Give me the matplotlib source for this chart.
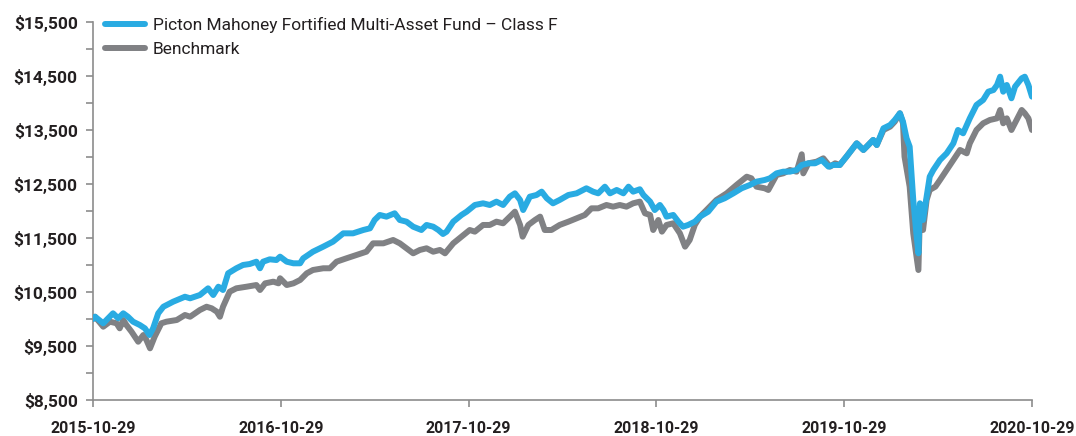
import matplotlib
matplotlib.use("Agg")
import matplotlib.pyplot as plt
import matplotlib.dates as mdates
from matplotlib.ticker import FuncFormatter, MultipleLocator
import pandas as pd

plt.rcParams['font.family'] = ['Roboto', 'DejaVu Sans']

# growth of $10,000 - fund (Class F)
fund_dates = [
    "2015-10-29", "2015-11-02", "2015-11-18", "2015-12-07", "2015-12-17", "2015-12-27",
    "2016-01-05", "2016-01-15", "2016-01-28", "2016-02-07", "2016-02-16", "2016-02-23",
    "2016-03-04", "2016-03-14", "2016-04-02", "2016-04-25", "2016-05-05", "2016-05-24",
    "2016-06-09", "2016-06-19", "2016-06-29", "2016-07-08", "2016-07-18", "2016-08-03",
    "2016-08-16", "2016-08-29", "2016-09-11", "2016-09-18", "2016-09-24", "2016-10-07",
    "2016-10-20", "2016-10-27", "2016-11-09", "2016-11-22", "2016-12-05", "2016-12-11",
    "2016-12-30", "2017-01-19", "2017-02-07", "2017-02-27", "2017-03-18", "2017-04-07",
    "2017-04-20", "2017-04-29", "2017-05-09", "2017-05-22", "2017-06-07", "2017-06-17",
    "2017-06-30", "2017-07-13", "2017-07-29", "2017-08-08", "2017-08-21", "2017-08-31",
    "2017-09-09", "2017-09-16", "2017-09-29", "2017-10-15", "2017-10-25", "2017-11-10",
    "2017-11-26", "2017-12-09", "2017-12-22", "2018-01-04", "2018-01-17", "2018-01-27",
    "2018-02-06", "2018-02-12", "2018-02-25", "2018-03-10", "2018-03-20", "2018-03-30",
    "2018-04-11", "2018-04-24", "2018-05-11", "2018-05-27", "2018-06-15", "2018-06-28",
    "2018-07-08", "2018-07-21", "2018-07-31", "2018-08-13", "2018-08-26", "2018-09-05",
    "2018-09-14", "2018-09-27", "2018-10-04", "2018-10-17", "2018-10-26", "2018-11-05",
    "2018-11-12", "2018-11-18", "2018-12-01", "2018-12-11", "2018-12-20", "2018-12-30",
    "2019-01-12", "2019-01-22", "2019-02-07", "2019-02-23", "2019-03-11", "2019-03-28",
    "2019-04-13", "2019-04-29", "2019-05-12", "2019-05-28", "2019-06-07", "2019-06-20",
    "2019-07-03", "2019-07-16", "2019-07-29", "2019-08-08", "2019-08-21", "2019-09-03",
    "2019-09-16", "2019-09-29", "2019-10-08", "2019-10-21", "2019-11-03", "2019-11-23",
    "2019-12-06", "2019-12-25", "2020-01-01", "2020-01-14", "2020-01-27", "2020-02-05",
    "2020-02-15", "2020-02-21", "2020-02-28", "2020-03-05", "2020-03-12", "2020-03-18",
    "2020-03-22", "2020-03-25", "2020-03-31", "2020-04-07", "2020-04-13", "2020-04-20",
    "2020-05-03", "2020-05-16", "2020-05-29", "2020-06-07", "2020-06-17", "2020-06-30",
    "2020-07-13", "2020-07-26", "2020-08-05", "2020-08-15", "2020-08-22", "2020-08-28",
    "2020-09-03", "2020-09-10", "2020-09-19", "2020-09-26", "2020-10-09", "2020-10-15",
    "2020-10-22", "2020-10-29",
]
fund_values = [
    10000, 10042, 9920, 10105, 10013, 10105,
    10042, 9950, 9889, 9827, 9703, 9827,
    10105, 10227, 10320, 10412, 10383, 10444,
    10568, 10444, 10598, 10537, 10846, 10939,
    11000, 11018, 11061, 10939, 11061, 11105,
    11092, 11154, 11061, 11031, 11031, 11123,
    11246, 11339, 11432, 11586, 11586, 11648,
    11679, 11833, 11926, 11895, 11957, 11833,
    11802, 11709, 11648, 11741, 11709, 11648,
    11574, 11617, 11802, 11926, 11987, 12111,
    12142, 12111, 12173, 12111, 12265, 12327,
    12204, 12018, 12265, 12296, 12358, 12235,
    12142, 12204, 12296, 12327, 12420, 12358,
    12327, 12450, 12327, 12389, 12327, 12450,
    12358, 12402, 12296, 12173, 12018, 12111,
    12018, 11895, 11926, 11802, 11709, 11741,
    11802, 11895, 11987, 12173, 12235, 12327,
    12420, 12481, 12543, 12574, 12605, 12697,
    12728, 12728, 12759, 12852, 12883, 12883,
    12944, 12821, 12852, 12852, 13006, 13253,
    13130, 13315, 13222, 13531, 13592, 13685,
    13809, 13654, 13346, 13191, 12204, 11586,
    11216, 12142, 11833, 12265, 12635, 12759,
    12944, 13068, 13253, 13500, 13439, 13716,
    13963, 14056, 14209, 14240, 14333, 14487,
    14209, 14333, 14087, 14302, 14457, 14487,
    14333, 14117,
]

# benchmark
bench_dates = [
    "2015-10-29", "2015-11-02", "2015-11-18", "2015-12-01", "2015-12-14", "2015-12-20",
    "2015-12-27", "2016-01-02", "2016-01-12", "2016-01-25", "2016-02-04", "2016-02-10",
    "2016-02-17", "2016-02-26", "2016-03-10", "2016-03-20", "2016-04-09", "2016-04-25",
    "2016-05-05", "2016-05-24", "2016-06-06", "2016-06-16", "2016-06-26", "2016-07-02",
    "2016-07-08", "2016-07-21", "2016-08-03", "2016-08-23", "2016-09-11", "2016-09-18",
    "2016-09-28", "2016-10-14", "2016-10-24", "2016-10-27", "2016-11-09", "2016-11-22",
    "2016-12-05", "2016-12-18", "2016-12-30", "2017-01-19", "2017-02-01", "2017-02-14",
    "2017-03-05", "2017-03-25", "2017-04-13", "2017-04-26", "2017-05-16", "2017-06-04",
    "2017-06-17", "2017-06-30", "2017-07-13", "2017-07-26", "2017-08-08", "2017-08-21",
    "2017-09-03", "2017-09-13", "2017-09-29", "2017-10-15", "2017-10-31", "2017-11-10",
    "2017-11-26", "2017-12-09", "2017-12-22", "2018-01-04", "2018-01-17", "2018-01-27",
    "2018-02-06", "2018-02-11", "2018-02-22", "2018-03-07", "2018-03-17", "2018-03-26",
    "2018-04-08", "2018-04-24", "2018-05-11", "2018-05-27", "2018-06-12", "2018-06-25",
    "2018-07-08", "2018-07-24", "2018-08-06", "2018-08-19", "2018-09-01", "2018-09-14",
    "2018-09-27", "2018-10-07", "2018-10-17", "2018-10-23", "2018-11-02", "2018-11-09",
    "2018-11-18", "2018-12-01", "2018-12-14", "2018-12-24", "2019-01-02", "2019-01-12",
    "2019-01-22", "2019-02-07", "2019-02-23", "2019-03-15", "2019-04-03", "2019-04-23",
    "2019-05-02", "2019-05-12", "2019-05-28", "2019-06-04", "2019-06-20", "2019-07-03",
    "2019-07-16", "2019-07-29", "2019-08-08", "2019-08-11", "2019-08-21", "2019-09-06",
    "2019-09-19", "2019-10-02", "2019-10-12", "2019-10-21", "2019-11-03", "2019-11-23",
    "2019-12-06", "2019-12-25", "2020-01-01", "2020-01-14", "2020-01-27", "2020-02-05",
    "2020-02-15", "2020-02-21", "2020-02-24", "2020-03-05", "2020-03-12", "2020-03-22",
    "2020-03-25", "2020-03-31", "2020-04-07", "2020-04-13", "2020-04-24", "2020-05-03",
    "2020-05-16", "2020-05-29", "2020-06-11", "2020-06-24", "2020-06-30", "2020-07-13",
    "2020-07-26", "2020-08-08", "2020-08-22", "2020-08-28", "2020-09-03", "2020-09-10",
    "2020-09-19", "2020-09-29", "2020-10-09", "2020-10-15", "2020-10-22", "2020-10-29",
]
bench_values = [
    10000, 10042, 9857, 9950, 9920, 9827,
    9981, 9889, 9765, 9579, 9703, 9611,
    9457, 9672, 9920, 9950, 9981, 10074,
    10042, 10166, 10227, 10197, 10135, 10042,
    10227, 10505, 10568, 10598, 10629, 10537,
    10660, 10691, 10660, 10754, 10629, 10660,
    10722, 10846, 10907, 10939, 10939, 11061,
    11123, 11185, 11246, 11401, 11401, 11463,
    11401, 11309, 11216, 11278, 11309, 11246,
    11278, 11216, 11401, 11524, 11648, 11617,
    11741, 11741, 11802, 11772, 11895, 11987,
    11741, 11524, 11741, 11833, 11895, 11648,
    11648, 11741, 11802, 11864, 11926, 12049,
    12049, 12111, 12080, 12111, 12080, 12142,
    12173, 11957, 11926, 11648, 11833, 11617,
    11741, 11772, 11586, 11339, 11463, 11741,
    11895, 12049, 12204, 12327, 12481, 12635,
    12605, 12450, 12420, 12389, 12667, 12697,
    12759, 12728, 13050, 12697, 12883, 12913,
    12975, 12821, 12883, 12852, 13006, 13253,
    13130, 13315, 13222, 13500, 13562, 13654,
    13809, 13624, 13006, 12450, 11586, 10907,
    11957, 11648, 12204, 12389, 12450, 12574,
    12759, 12944, 13130, 13068, 13253, 13500,
    13624, 13685, 13716, 13870, 13624, 13716,
    13500, 13685, 13870, 13809, 13716, 13500,
]

tick_dates = ["2015-10-29", "2016-10-29", "2017-10-29", "2018-10-29", "2019-10-29", "2020-10-29"]

fund_name = "Picton Mahoney Fortified Multi-Asset Fund \u2013 Class F"
bench_name = "Benchmark"

blue = "#29abe2"
grey = "#808184"
text_col = "#231f20"
axis_col = "#8c8c8c"

fig = plt.figure(figsize=(10.76, 4.36), dpi=100)
ax = fig.add_axes([0.0864, 0.0826, 0.8727, 0.8670])

ax.plot(pd.to_datetime(bench_dates), bench_values, color=grey, lw=4.3,
        solid_joinstyle="round", solid_capstyle="round", label=bench_name, zorder=2)
ax.plot(pd.to_datetime(fund_dates), fund_values, color=blue, lw=4.3,
        solid_joinstyle="round", solid_capstyle="round", label=fund_name, zorder=3)

ax.set_xlim(pd.Timestamp(tick_dates[0]), pd.Timestamp(tick_dates[-1]))
ax.set_ylim(8500, 15500)

ax.set_xticks(pd.to_datetime(tick_dates))
ax.xaxis.set_major_formatter(mdates.DateFormatter("%Y-%m-%d"))
ax.set_yticks(range(8500, 15501, 1000))
ax.yaxis.set_minor_locator(MultipleLocator(500))
ax.yaxis.set_major_formatter(FuncFormatter(lambda v, p: "${:,.0f}".format(v)))

for s in ["top", "right"]:
    ax.spines[s].set_visible(False)
for s in ["left", "bottom"]:
    ax.spines[s].set_color(axis_col)
    ax.spines[s].set_linewidth(1.2)

ax.tick_params(axis="both", which="both", color=axis_col, width=1.2, length=5)
ax.tick_params(axis="y", labelsize=12.5, labelcolor=text_col, pad=6)
ax.tick_params(axis="x", labelsize=11.5, labelcolor=text_col, pad=10)
for lab in ax.get_xticklabels() + ax.get_yticklabels():
    lab.set_fontweight("bold")

handles, labels = ax.get_legend_handles_labels()
leg = ax.legend(handles[::-1], labels[::-1], loc="upper left", bbox_to_anchor=(0.0, 1.045),
                frameon=False, fontsize=12.5, handlelength=2.3, handletextpad=0.45,
                labelspacing=0.5, borderaxespad=0.3)
for t in leg.get_texts():
    t.set_color(text_col)

fig.savefig("out.png", dpi=100)
